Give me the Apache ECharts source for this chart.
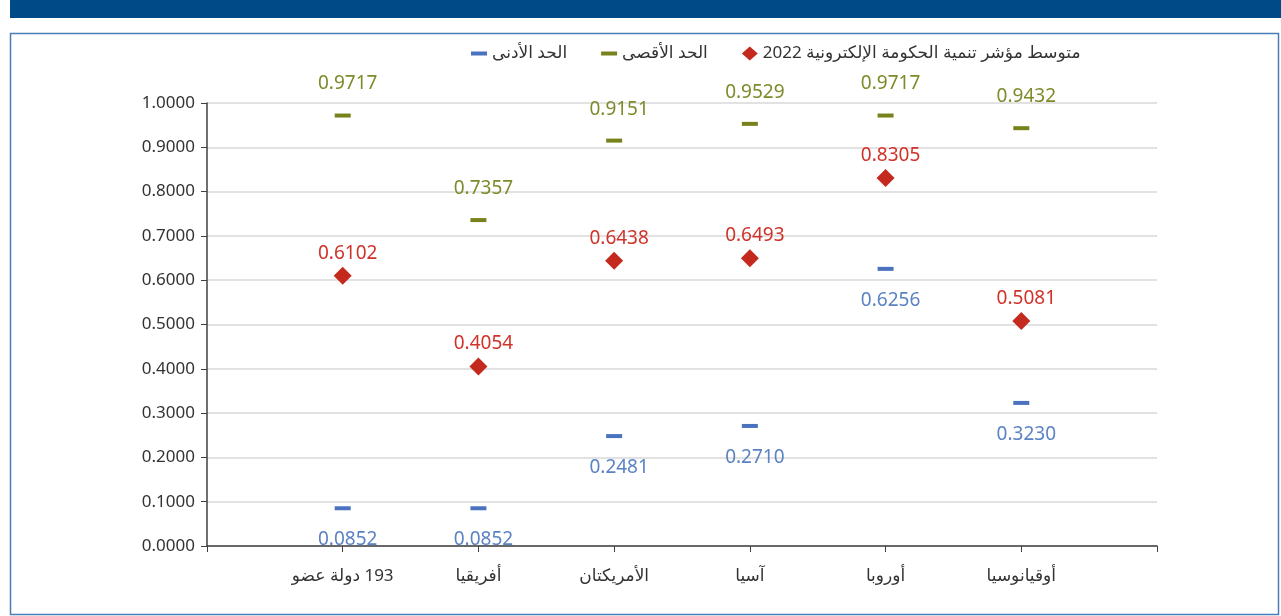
<!DOCTYPE html>
<html>
<head>
<meta charset="utf-8">
<script src="https://cdn.jsdelivr.net/npm/echarts@6/dist/echarts.min.js"></script>
<style>
  html, body { margin: 0; padding: 0; background: #fff; }
  #chart { width: 1281px; height: 616px; }
</style>
</head>
<body>
<div id="chart"></div>
<script>
var categories = ['193 ' + 'دولة عضو', 'أفريقيا', 'الأمريكتان', 'آسيا', 'أوروبا', 'أوقيانوسيا'];
var maxValues = [0.9717, 0.7357, 0.9151, 0.9529, 0.9717, 0.9432];
var avgValues = [0.6102, 0.4054, 0.6438, 0.6493, 0.8305, 0.5081];
var minValues = [0.0852, 0.0852, 0.2481, 0.2710, 0.6256, 0.3230];
var seriesNames = ['الحد الأدنى', 'الحد الأقصى', 'متوسط مؤشر تنمية الحكومة الإلكترونية' + ' 2022'];

var font = "'Noto Sans', 'DejaVu Sans', sans-serif";

// empty slot at each end, like the original axis
function pad(arr, fill) { return [fill].concat(arr, [fill]); }

// mixed Arabic + number: lay pieces out visually as RTL would
// ("193 xxx" -> number on the right, "xxx 2022" -> number on the left)
function catLabel(v) {
    var m = /^(\d+) (.+)$/.exec(v);
    if (m) return '{t|' + m[2] + '} {t|' + m[1] + '}';
    return '{t|' + v + '}';
}
function legendLabel(v) {
    var m = /^(.+) (\d+)$/.exec(v);
    if (m) return '{t|' + m[2] + '} {t|' + m[1] + '}';
    return '{t|' + v + '}';
}

function fmt(p) { return p.value.toFixed(4); }

var chart = echarts.init(document.getElementById('chart'));

var option = {
    backgroundColor: '#fff',
    animation: false,
    textStyle: { fontFamily: font },
    graphic: [
        { type: 'rect', shape: { x: 10, y: 0, width: 1271, height: 18 }, style: { fill: '#004b87' }, silent: true },
        { type: 'rect', shape: { x: 10.5, y: 33.5, width: 1268, height: 581 }, style: { fill: 'none', stroke: '#4a7db5', lineWidth: 1.5 }, silent: true }
    ],
    legend: {
        left: 466,
        top: 40,
        itemGap: 34,
        itemWidth: 16,
        itemHeight: 14,
        formatter: legendLabel,
        textStyle: {
            fontSize: 17, color: '#333', fontFamily: font,
            rich: { t: { fontSize: 17, color: '#333', fontFamily: font } }
        },
        data: [
            { name: seriesNames[0], icon: 'path://M0,0 L16,0 L16,4 L0,4 Z' },
            { name: seriesNames[1], icon: 'path://M0,0 L16,0 L16,4 L0,4 Z' },
            { name: seriesNames[2], icon: 'diamond' }
        ]
    },
    grid: { left: 207, right: 124, top: 103, bottom: 70 },
    xAxis: {
        type: 'category',
        boundaryGap: false,
        data: pad(categories, ''),
        axisLine: { lineStyle: { color: '#404040', width: 1.5 } },
        axisTick: { show: true, length: 6, lineStyle: { color: '#404040' } },
        axisLabel: {
            fontSize: 17, color: '#333', margin: 22, fontFamily: font, interval: 0,
            formatter: catLabel,
            rich: { t: { fontSize: 17, color: '#333', fontFamily: font } }
        },
        splitLine: { show: false }
    },
    yAxis: {
        type: 'value',
        min: 0,
        max: 1,
        interval: 0.1,
        axisLine: { show: true, lineStyle: { color: '#404040', width: 1.5 } },
        axisTick: { show: true, length: 6, lineStyle: { color: '#404040' } },
        axisLabel: {
            fontSize: 17, color: '#333', margin: 12, fontFamily: font,
            formatter: function (v) { return v.toFixed(4); }
        },
        splitLine: { lineStyle: { color: '#d9d9d9', width: 1.5 } }
    },
    series: [
        {
            name: seriesNames[0],
            type: 'scatter',
            data: pad(minValues, null),
            symbol: 'rect',
            symbolSize: [16, 4],
            itemStyle: { color: '#4a72be', opacity: 1 },
            label: {
                show: true, position: 'bottom', distance: 20, offset: [5, 0],
                fontSize: 19, color: '#5b82c4', fontFamily: font, formatter: fmt
            }
        },
        {
            name: seriesNames[1],
            type: 'scatter',
            data: pad(maxValues, null),
            symbol: 'rect',
            symbolSize: [16, 4],
            itemStyle: { color: '#77821c', opacity: 1 },
            label: {
                show: true, position: 'top', distance: 20, offset: [5, 0],
                fontSize: 19, color: '#7f8a2a', fontFamily: font, formatter: fmt
            }
        },
        {
            name: seriesNames[2],
            type: 'scatter',
            data: pad(avgValues, null),
            symbol: 'diamond',
            symbolSize: 18,
            itemStyle: { color: '#c4291e', opacity: 1 },
            label: {
                show: true, position: 'top', distance: 4, offset: [5, 0],
                fontSize: 19, color: '#d0332a', fontFamily: font, formatter: fmt
            }
        }
    ]
};

chart.setOption(option);
</script>
</body>
</html>
